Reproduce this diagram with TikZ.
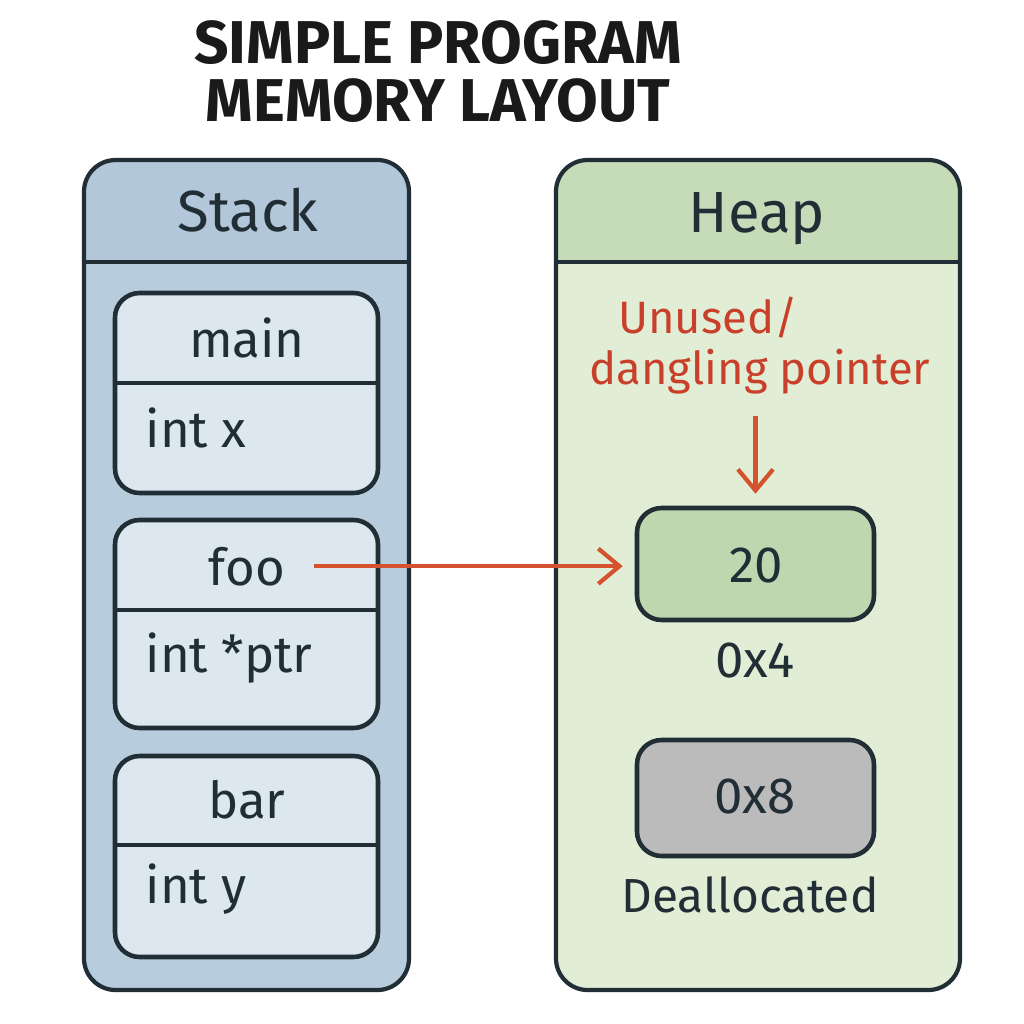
\documentclass[tikz,border=0pt]{standalone}
\usepackage{fontspec}
\setmainfont{Fira Sans}
\usetikzlibrary{positioning, calc, arrows.meta}

\definecolor{ink}{HTML}{222E35}
\definecolor{titleink}{HTML}{1A1A1A}
\definecolor{stackbody}{HTML}{B7CDDE}
\definecolor{stackhead}{HTML}{B2C8DA}
\definecolor{cellblue}{HTML}{DCE7F0}
\definecolor{heapbody}{HTML}{E2EDD6}
\definecolor{heaphead}{HTML}{C6DCB8}
\definecolor{livegreen}{HTML}{BFD7AF}
\definecolor{deadgray}{HTML}{BBBBBB}
\definecolor{ptrred}{HTML}{D4532E}
\definecolor{notered}{HTML}{C9402A}

\tikzset{
  outer/.style = {draw=ink, line width=1.2pt, rounded corners=9pt, inner sep=0pt},
  frame/.style = {draw=ink, line width=1.3pt, fill=cellblue, rounded corners=7pt,
                  minimum width=2.63cm, inner sep=0pt},
  cell/.style  = {draw=ink, line width=1.3pt, rounded corners=7pt,
                  minimum width=2.37cm, inner sep=0pt},
  divider/.style = {draw=ink, line width=1.2pt},
  title/.style = {font=\fontsize{17.2}{20}\selectfont\bfseries, text=titleink, inner sep=0pt, anchor=base},
  hdr/.style   = {font=\fontsize{16.5}{20}\selectfont, text=ink, inner sep=0pt, anchor=base},
  lbl/.style   = {font=\fontsize{14.5}{17}\selectfont, text=ink, inner sep=0pt, anchor=base},
  var/.style   = {lbl, anchor=base west},
  note/.style  = {font=\fontsize{12.9}{16}\selectfont, text=notered, inner sep=0pt, anchor=base},
  ptr/.style   = {draw=ptrred, line width=1.2pt, -{Straight Barb[length=6pt, width=10pt]}}
}

\begin{document}
\begin{tikzpicture}[x=1cm, y=-1cm]
  \useasboundingbox[fill=white] (0,0) rectangle (10.24,10.24);

  % title
  \node[title] (t1) at (4.38,0.63) {SIMPLE PROGRAM};
  \node[title] (t2) at (4.38,1.21) {MEMORY LAYOUT};

  % stack column
  \fill[stackbody, rounded corners=9pt] (0.84,1.60) rectangle (4.09,9.90);
  \fill[stackhead, rounded corners=9pt] (0.84,1.60) rectangle (4.09,2.62);
  \fill[stackhead] (0.84,2.30) rectangle (4.09,2.62);
  \node[outer, minimum width=3.25cm, minimum height=8.30cm] (stack) at (2.465,5.75) {};
  \draw[divider] (0.84,2.62) -- (4.09,2.62);
  \node[hdr] (stacklbl) at (2.48,2.31) {Stack};

  % heap column
  \fill[heapbody, rounded corners=9pt] (5.56,1.60) rectangle (9.60,9.90);
  \fill[heaphead, rounded corners=9pt] (5.56,1.60) rectangle (9.60,2.62);
  \fill[heaphead] (5.56,2.30) rectangle (9.60,2.62);
  \node[outer, minimum width=4.04cm, minimum height=8.30cm] (heap) at (7.58,5.75) {};
  \draw[divider] (5.56,2.62) -- (9.60,2.62);
  \node[hdr] (heaplbl) at (7.57,2.32) {Heap};

  % stack frames
  \node[frame, minimum height=2.00cm] (mainfr) at (2.465,3.93) {};
  \draw[divider] (mainfr.west |- 0,3.83) -- (mainfr.east |- 0,3.83);
  \node[lbl] (mainlbl) at (2.47,3.57) {main};
  \node[var] (xvar) at (1.45,4.47) {int x};

  \node[frame, minimum height=2.08cm] (foofr) at (2.465,6.24) {};
  \draw[divider] (foofr.west |- 0,6.10) -- (foofr.east |- 0,6.10);
  \node[lbl] (foolbl) at (2.47,5.85) {foo};
  \node[var] (ptrvar) at (1.45,6.72) {int *ptr};

  \node[frame, minimum height=2.01cm] (barfr) at (2.465,8.565) {};
  \draw[divider] (barfr.west |- 0,8.45) -- (barfr.east |- 0,8.45);
  \node[lbl] (barlbl) at (2.47,8.18) {bar};
  \node[var] (yvar) at (1.45,9.03) {int y};

  % heap blocks
  \node[cell, fill=livegreen, minimum height=1.12cm] (val20) at (7.555,5.64) {};
  \node[lbl] (v20) at (7.56,5.82) {20};
  \node[lbl] (addr4) at (7.55,6.77) {0x4};

  \node[cell, fill=deadgray, minimum height=1.16cm] (val8) at (7.555,7.98) {};
  \node[lbl] (addr8) at (7.55,8.13) {0x8};
  \node[lbl, font=\fontsize{13.6}{16}\selectfont] (dealloc) at (7.50,9.12) {Deallocated};

  % dangling pointer note
  \node[note] (unused) at (7.08,3.33) {Unused/};
  \node[note] (dang) at (7.60,3.84) {dangling pointer};

  % pointers
  \draw[ptr, shorten <=0.22cm, shorten >=0.12cm] (dang.south -| val20.north) -- (val20.north);
  \draw[ptr, shorten <=0.28cm, shorten >=0.12cm] (foolbl.east) -- (foolbl.east -| val20.west);
\end{tikzpicture}
\end{document}
